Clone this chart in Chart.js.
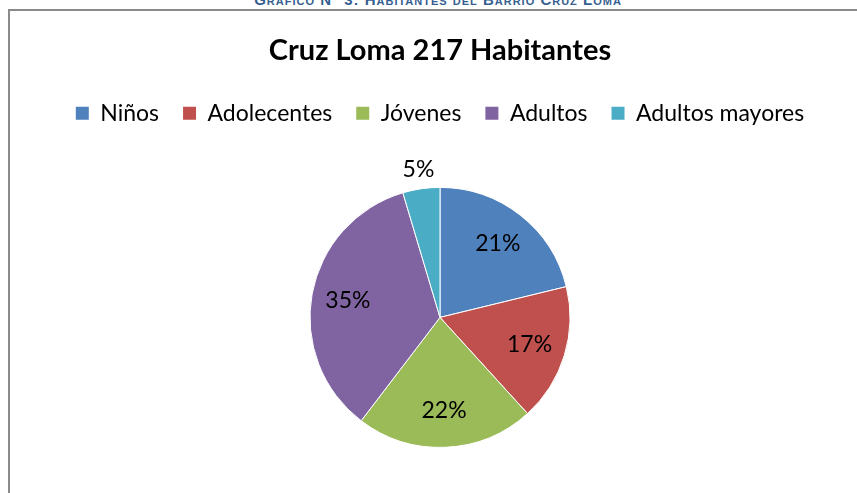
<!DOCTYPE html>
<html>
<head>
<meta charset="utf-8">
<script src="https://cdn.jsdelivr.net/npm/chart.js@4/dist/chart.umd.min.js"></script>
<style>
  html, body { margin: 0; padding: 0; background: #fff; overflow: hidden; width: 857px; height: 493px; }
  #caption { position: absolute; left: 0; width: 876px; top: -9px; text-align: center;
    font-family: "Liberation Sans Narrow", "Liberation Sans", Arial, sans-serif; font-weight: bold;
    font-size: 15px; color: #365F91; font-variant: small-caps; letter-spacing: 1px; white-space: nowrap; }
  #frame { position: absolute; left: 8px; top: 9px; width: 900px; height: 600px;
    border-left: 2px solid #8a8a8a; border-top: 2px solid #8a8a8a; }
  #wrap { position: absolute; left: 0; top: 0; width: 880px; height: 640px; }
</style>
</head>
<body>
<div id="caption">Gráfico N° 3: Habitantes del Barrio Cruz Loma</div>
<div id="frame"></div>
<div id="wrap"><canvas id="c"></canvas></div>
<script>
const categories = ["Niños", "Adolecentes", "Jóvenes", "Adultos", "Adultos mayores"];
const habitantes = [46, 37, 48, 76, 10];
const colors = ["#4F81BD", "#C0504D", "#9BBB59", "#8064A2", "#4BACC6"];
const chartTitle = "Cruz Loma 217 Habitantes";

const labelPlugin = {
  id: 'pctLabels',
  afterDatasetsDraw(chart) {
    const ctx = chart.ctx;
    const meta = chart.getDatasetMeta(0);
    const data = chart.data.datasets[0].data;
    const total = data.reduce((a, b) => a + b, 0);
    ctx.save();
    ctx.font = '23px Lato';
    ctx.fillStyle = '#000';
    ctx.textAlign = 'center';
    ctx.textBaseline = 'middle';
    meta.data.forEach((arc, i) => {
      const p = arc.getProps(['x', 'y', 'startAngle', 'endAngle', 'outerRadius'], true);
      const mid = (p.startAngle + p.endAngle) / 2;
      const frac = data[i] / total;
      const r = frac < 0.08 ? p.outerRadius + 19 : p.outerRadius * 0.72;
      ctx.fillText(Math.round(frac * 100) + '%', p.x + Math.cos(mid) * r, p.y + Math.sin(mid) * r);
    });
    ctx.restore();
  }
};

new Chart(document.getElementById('c'), {
  type: 'pie',
  data: {
    labels: categories,
    datasets: [{
      data: habitantes,
      backgroundColor: colors,
      borderColor: '#ffffff',
      borderWidth: 1
    }]
  },
  options: {
    responsive: true,
    maintainAspectRatio: false,
    animation: false,
    radius: 130,
    layout: { padding: { top: 33, bottom: 140, left: 0, right: 0 } },
    plugins: {
      tooltip: { enabled: false },
      title: {
        display: true,
        text: chartTitle,
        color: '#000',
        font: { family: 'Lato', size: 29, weight: 'bold' },
        padding: { top: 0, bottom: 10 }
      },
      legend: {
        position: 'top',
        labels: {
          color: '#000',
          font: { family: 'Lato', size: 23 },
          boxWidth: 13,
          boxHeight: 13,
          padding: 24,
          generateLabels(chart) {
            const items = Chart.overrides.pie.plugins.legend.labels.generateLabels(chart);
            return items.map(it => Object.assign(it, { lineWidth: 0, strokeStyle: it.fillStyle }));
          }
        }
      }
    }
  },
  plugins: [labelPlugin]
});
</script>
</body>
</html>
